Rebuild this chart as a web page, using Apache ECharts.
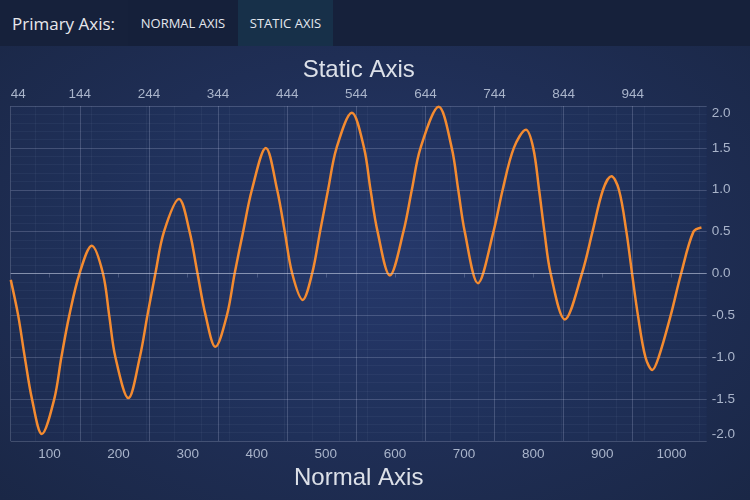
<!DOCTYPE html>
<html>
<head>
<meta charset="utf-8">
<script src="https://cdn.jsdelivr.net/npm/echarts@6/dist/echarts.min.js"></script>
<style>
	html, body { margin: 0; padding: 0; }
	body {
		width: 750px; height: 500px; overflow: hidden; position: relative;
		background: radial-gradient(ellipse at 50% 50%, #26386a 0%, #1f2e55 55%, #1a2746 100%);
		font-family: "Open Sans", "Noto Sans", sans-serif;
	}
	#toolbar {
		position: absolute; left: 0; top: 0; width: 750px; height: 46px;
		background: #16213b; display: flex; align-items: center; z-index: 2;
	}
	#toolbar .title { color: #e8e8ec; font-size: 17px; padding-left: 12px; width: 116px; }
	#toolbar .btn {
		height: 46px; line-height: 46px; color: #e4e7ee; font-size: 13px;
		text-align: center;
	}
	#btnNormal { width: 110px; background: #15203a; }
	#btnStatic { width: 95px; background: #173049; }
	#chart { position: absolute; left: 0; top: 0; width: 750px; height: 500px; z-index: 1; }
</style>
</head>
<body>
<div id="toolbar">
	<span class="title">Primary Axis:</span>
	<span class="btn" id="btnNormal">NORMAL AXIS</span>
	<span class="btn" id="btnStatic">STATIC AXIS</span>
</div>
<div id="chart"></div>
<script>
// 数据 (turning points and grid-line crossings)
var xValues = [44.1, 54.8, 64.4, 74.8, 89.0,
	107.0, 117.3, 128.8, 143.6, 161.3,
	177.5, 186.5, 195.5, 214.3,
	230.8, 241.8, 253.3, 265.8, 287.5,
	302.8, 314.3, 326.0, 340.1,
	356.8, 368.0, 380.3, 393.0, 413.1,
	429.5, 440.5, 451.3, 466.4,
	480.1, 491.6, 503.2, 515.5, 537.6,
	555.2, 564.6, 574.8, 592.6,
	612.2, 624.4, 637.0, 663.3,
	682.1, 691.5, 700.9, 720.0,
	742.5, 755.8, 772.0, 789.5,
	800.0, 808.5, 816.2, 825.2, 845.7,
	870.5, 885.8, 901.0, 913.1,
	924.0, 934.8, 943.0, 951.5, 962.4, 972.4,
	981.5, 998.9, 1014.0, 1031.9, 1043.4];
var yValues = [-0.076, -0.5, -1.0, -1.5, -1.916,
	-1.5, -1.0, -0.5, 0.0, 0.332,
	0.0, -0.5, -1.0, -1.488,
	-1.0, -0.5, 0.0, 0.5, 0.89,
	0.5, 0.0, -0.5, -0.876,
	-0.5, 0.0, 0.5, 1.0, 1.50,
	1.0, 0.5, 0.0, -0.315,
	0.0, 0.5, 1.0, 1.5, 1.92,
	1.5, 1.0, 0.5, -0.024,
	0.5, 1.0, 1.5, 1.99,
	1.5, 1.0, 0.5, -0.115,
	0.5, 1.0, 1.5, 1.716,
	1.5, 1.0, 0.5, 0.0, -0.548,
	0.0, 0.5, 1.0, 1.16,
	1.0, 0.5, 0.0, -0.5, -1.0, -1.151,
	-1.0, -0.5, 0.0, 0.5, 0.55];
var staticTicks = [44, 144, 244, 344, 444, 544, 644, 744, 844, 944];
var normalTicks = [100, 200, 300, 400, 500, 600, 700, 800, 900, 1000];
var xMin = 44, xMax = 1051;

var labelColor = '#a9b4ca';
var gridColor = 'rgba(200,210,235,0.22)';
var minorColor = 'rgba(200,210,235,0.05)';

function init(id){
	var myChart = echarts.init(document.getElementById(id));
	var points = [];
	for (var i = 0; i < xValues.length; i++) {
		points.push([xValues[i], yValues[i]]);
	}
	var option = {
		backgroundColor: 'transparent',
		animation: false,
		grid: {
			left: 10.7, right: 43.3, top: 106, bottom: 59,
			show: true, backgroundColor: 'rgba(40,64,130,0.10)', borderWidth: 0,
			outerBoundsMode: 'none'
		},
		xAxis: [
			{
				type: 'value', position: 'bottom', min: xMin, max: xMax,
				name: 'Normal Axis', nameLocation: 'middle', nameGap: 23,
				nameTextStyle: { color: '#dce0e8', fontSize: 24, fontFamily: 'Liberation Sans, Arial' },
				axisLine: { show: false },
				axisTick: { show: true, length: 4, customValues: normalTicks, lineStyle: { color: gridColor } },
				axisLabel: {
					customValues: normalTicks, color: labelColor, fontSize: 13.5, margin: 6,
					fontFamily: 'Liberation Sans, Arial',
					formatter: function(v){ return String(v); }
				},
				splitLine: { show: false },
				minorTick: { show: false, splitNumber: 5 },
				minorSplitLine: { show: true, lineStyle: { color: minorColor } }
			},
			{
				type: 'value', position: 'top', min: xMin, max: xMax,
				name: 'Static Axis', nameLocation: 'middle', nameGap: 22,
				nameTextStyle: { color: '#dce0e8', fontSize: 24, fontFamily: 'Liberation Sans, Arial' },
				axisLine: { show: false },
				axisTick: { show: false, customValues: staticTicks },
				axisLabel: {
					customValues: staticTicks, color: labelColor, fontSize: 13.5, margin: 5,
					fontFamily: 'Liberation Sans, Arial', alignMinLabel: 'left',
					formatter: function(v){ return String(v); }
				},
				splitLine: { show: true, lineStyle: { color: gridColor } }
			}
		],
		yAxis: {
			type: 'value', position: 'right', min: -2, max: 2, interval: 0.5,
			axisLine: { show: false },
			axisTick: { show: false },
			axisLabel: {
				color: labelColor, fontSize: 13.5, margin: 5, fontFamily: 'Liberation Sans, Arial',
				formatter: function(v){ return v.toFixed(1); },
				verticalAlignMinLabel: 'bottom', verticalAlignMaxLabel: 'top'
			},
			splitLine: { show: true, lineStyle: { color: gridColor } },
			minorTick: { show: false, splitNumber: 5 },
			minorSplitLine: { show: true, lineStyle: { color: minorColor } }
		},
		series: [
			{
				type: 'line',
				xAxisIndex: 0,
				data: points,
				smooth: 0.34,
				showSymbol: false,
				lineStyle: { color: '#f48b30', width: 2.5 },
				markLine: {
					silent: true, symbol: 'none', label: { show: false },
					lineStyle: { color: 'rgba(210,218,235,0.45)', width: 1, type: 'solid' },
					data: [{ yAxis: 0 }]
				}
			}
		]
	};
	myChart.setOption(option);
}
init('chart');
</script>
</body>
</html>
